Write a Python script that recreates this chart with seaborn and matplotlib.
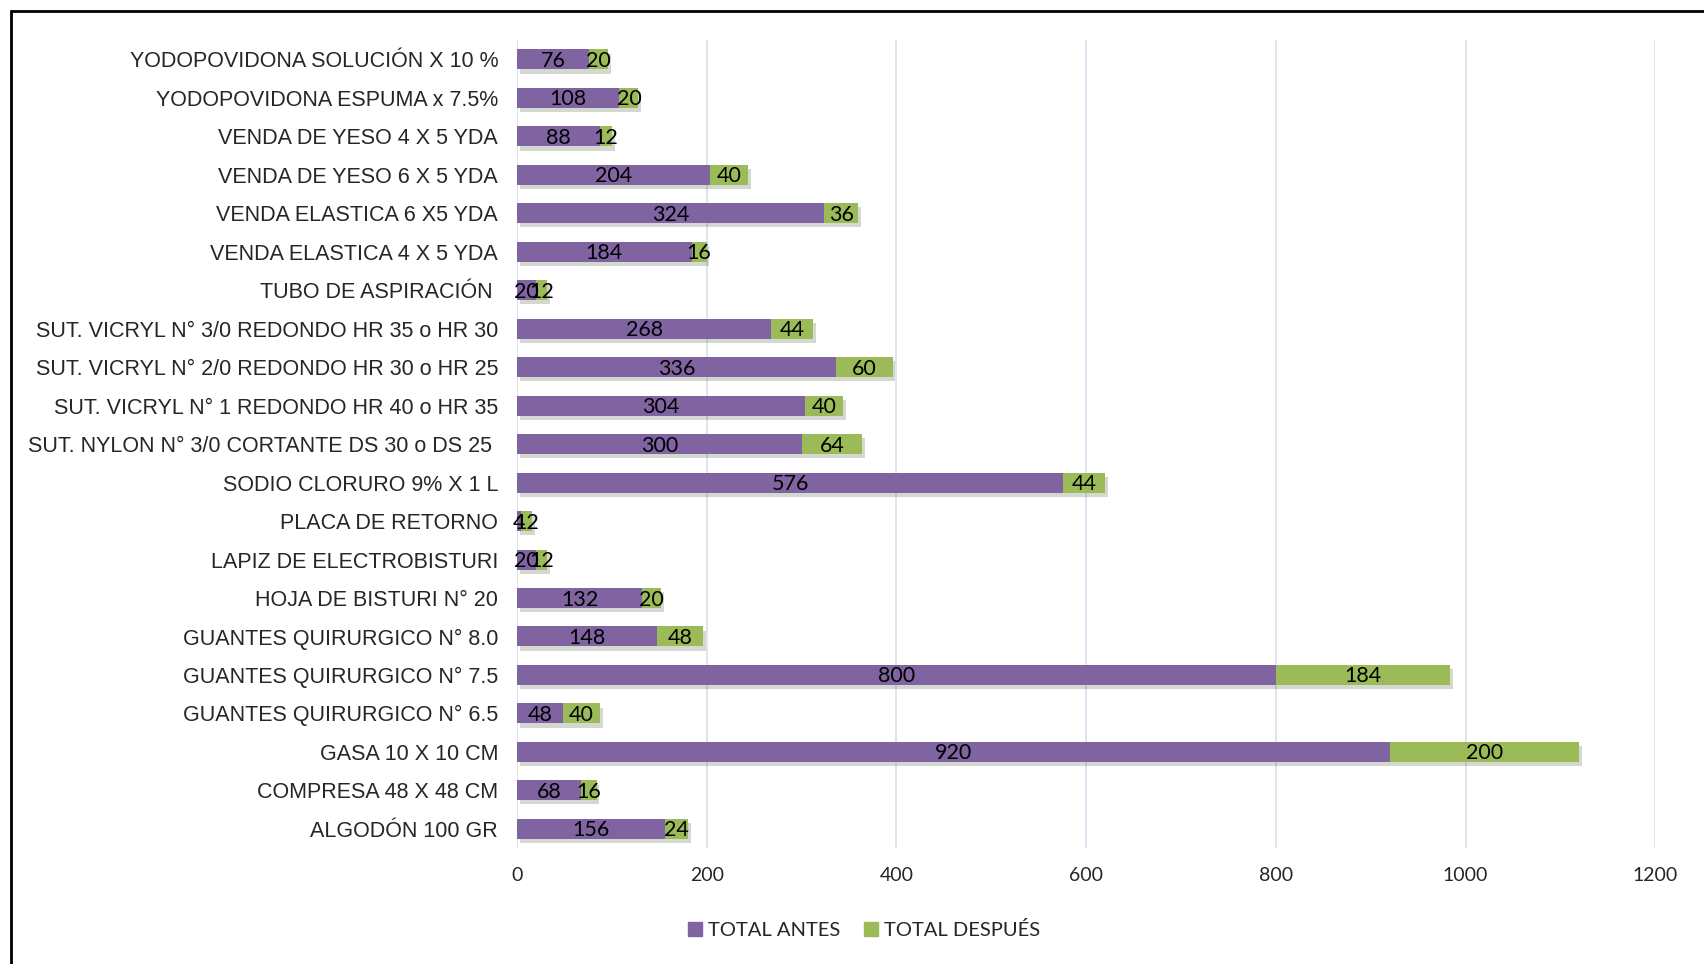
import numpy as np
import pandas as pd
import matplotlib
matplotlib.use("Agg")
import matplotlib.pyplot as plt
import matplotlib.patheffects as pe
from matplotlib.patches import Patch, Rectangle
import seaborn as sns

# data, top row first
productos = [
    "YODOPOVIDONA SOLUCIÓN X 10 %",
    "YODOPOVIDONA ESPUMA x 7.5%",
    "VENDA DE YESO 4 X 5 YDA",
    "VENDA DE YESO 6 X 5 YDA",
    "VENDA ELASTICA 6 X5 YDA",
    "VENDA ELASTICA 4 X 5 YDA",
    "TUBO DE ASPIRACIÓN ",
    "SUT. VICRYL N° 3/0 REDONDO HR 35 o HR 30",
    "SUT. VICRYL N° 2/0 REDONDO HR 30 o HR 25",
    "SUT. VICRYL N° 1 REDONDO HR 40 o HR 35",
    "SUT. NYLON N° 3/0 CORTANTE DS 30 o DS 25 ",
    "SODIO CLORURO 9% X 1 L",
    "PLACA DE RETORNO",
    "LAPIZ DE ELECTROBISTURI",
    "HOJA DE BISTURI N° 20",
    "GUANTES QUIRURGICO N° 8.0",
    "GUANTES QUIRURGICO N° 7.5",
    "GUANTES QUIRURGICO N° 6.5",
    "GASA 10 X 10 CM",
    "COMPRESA 48 X 48 CM",
    "ALGODÓN 100 GR",
]
total_antes = [76, 108, 88, 204, 324, 184, 20, 268, 336, 304, 300, 576, 4, 20, 132, 148, 800, 48, 920, 68, 156]
total_despues = [20, 20, 12, 40, 36, 16, 12, 44, 60, 40, 64, 44, 12, 12, 20, 48, 184, 40, 200, 16, 24]

df = pd.DataFrame({"producto": productos, "antes": total_antes, "despues": total_despues})
df["total"] = df["antes"] + df["despues"]

morado = "#8064A2"
verde = "#9BBB59"
grid_col = "#D5E0EE"

sns.set_style("white")
plt.rcParams["font.family"] = ["Liberation Sans", "DejaVu Sans"]

fig = plt.figure(figsize=(17.04, 9.64), dpi=100)
ax = fig.add_axes([0.3034, 0.1203, 0.668, 0.838])

sombra = [pe.SimplePatchShadow(offset=(2, -3), alpha=0.2), pe.Normal()]

sns.barplot(data=df, x="total", y="producto", color=verde, saturation=1,
            width=0.52, ax=ax, orient="h", linewidth=0, edgecolor="none")
sns.barplot(data=df, x="antes", y="producto", color=morado, saturation=1,
            width=0.52, ax=ax, orient="h", linewidth=0, edgecolor="none")
for p in ax.containers[0]:
    p.set_path_effects(sombra)

# data labels
num_font = "Lato"
for i, row in df.iterrows():
    ax.text(row["antes"] / 2, i + 0.04, str(row["antes"]), ha="center", va="center",
            fontsize=15.5, family=num_font, color="black")
    ax.text(row["antes"] + row["despues"] / 2, i + 0.04, str(row["despues"]), ha="center",
            va="center", fontsize=15.5, family=num_font, color="black")

ax.set_xlim(0, 1200)
ax.set_ylim(len(df) - 0.5, -0.5)
ax.set_xticks(np.arange(0, 1201, 200))
ax.set_xlabel("")
ax.set_ylabel("")
ax.grid(axis="x", color=grid_col, linewidth=1.2)
ax.set_axisbelow(True)
for s in ax.spines.values():
    s.set_visible(False)
ax.tick_params(axis="y", length=0, pad=13.5, labelsize=15.5)
ax.tick_params(axis="x", length=0, pad=14)
for t in ax.get_xticklabels():
    t.set_family(num_font)
    t.set_fontsize(14)

handles = [Patch(color=morado, label="TOTAL ANTES"), Patch(color=verde, label="TOTAL DESPUÉS")]
fig.legend(handles=handles, loc="center", bbox_to_anchor=(0.507, 0.035), ncol=2,
           frameon=False, handlelength=0.7, handleheight=0.7, handletextpad=0.3,
           columnspacing=1.2, prop={"family": num_font, "size": 14.5})

# outer frame (left and top visible)
fig.patches.append(Rectangle((0.0065, -0.1), 2, 1.1 - 0.0115, transform=fig.transFigure,
                             fill=False, edgecolor="black", linewidth=2))

fig.savefig("out.png", dpi=100)
